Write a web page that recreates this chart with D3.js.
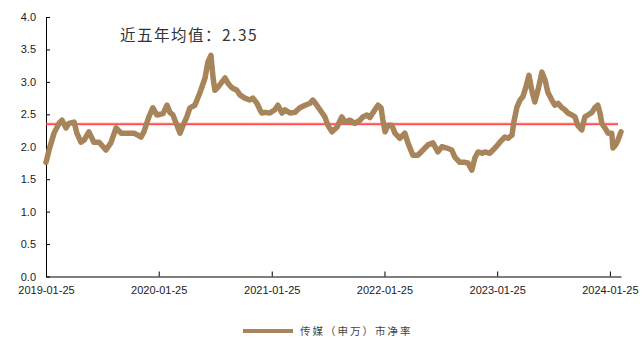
<!DOCTYPE html>
<html>
<head>
<meta charset="utf-8">
<script src="https://cdn.jsdelivr.net/npm/d3@7"></script>
<style>
  html, body { margin: 0; padding: 0; background: #fff; }
  svg { display: block; }
</style>
</head>
<body>
<svg id="chart" width="643" height="338"></svg>
<script>
// 传媒（申万）市净率, weekly-sampled readings
const dates = [
  "2019-01-25","2019-02-04","2019-02-20","2019-03-08","2019-03-18","2019-03-31","2019-04-09","2019-04-26",
  "2019-05-05","2019-05-18","2019-05-28","2019-06-13","2019-06-29","2019-07-16","2019-08-07","2019-08-23",
  "2019-09-09","2019-09-25","2019-10-14","2019-11-06","2019-11-29","2019-12-08","2019-12-24","2020-01-06",
  "2020-01-19","2020-02-08","2020-02-21","2020-03-01","2020-03-11","2020-03-24","2020-04-03","2020-04-13",
  "2020-04-25","2020-05-05","2020-05-21","2020-06-07","2020-06-23","2020-07-02","2020-07-12","2020-07-19",
  "2020-07-25","2020-08-04","2020-08-17","2020-08-27","2020-09-05","2020-09-18","2020-10-04","2020-10-14",
  "2020-10-30","2020-11-15","2020-11-25","2020-12-08","2020-12-18","2020-12-24","2021-01-03","2021-01-19",
  "2021-02-04","2021-02-14","2021-02-27","2021-03-09","2021-03-25","2021-04-10","2021-04-26","2021-05-13",
  "2021-05-29","2021-06-07","2021-06-20","2021-06-30","2021-07-16","2021-07-26","2021-08-08","2021-08-24",
  "2021-09-09","2021-09-19","2021-10-05","2021-10-21","2021-11-07","2021-11-16","2021-11-29","2021-12-09",
  "2021-12-25","2022-01-04","2022-01-14","2022-01-20","2022-01-27","2022-02-05","2022-02-18","2022-02-28",
  "2022-03-16","2022-04-01","2022-04-11","2022-04-27","2022-05-13","2022-05-30","2022-06-15","2022-07-01",
  "2022-07-17","2022-07-30","2022-08-15","2022-08-31","2022-09-10","2022-09-26","2022-10-13","2022-10-22",
  "2022-11-04","2022-11-14","2022-11-24","2022-12-07","2022-12-16","2023-01-01","2023-01-18","2023-02-03",
  "2023-02-19","2023-03-01","2023-03-14","2023-03-20","2023-03-30","2023-04-09","2023-04-18","2023-04-28",
  "2023-05-08","2023-05-17","2023-05-27","2023-06-06","2023-06-19","2023-06-29","2023-07-08","2023-07-21",
  "2023-07-31","2023-08-10","2023-08-23","2023-09-01","2023-09-11","2023-09-24","2023-10-04","2023-10-13",
  "2023-10-26","2023-11-05","2023-11-15","2023-11-28","2023-12-07","2023-12-17","2023-12-24","2023-12-30",
  "2024-01-09","2024-01-19","2024-01-31","2024-02-04","2024-02-13","2024-02-20","2024-03-01"
];
const pbValues = [
  1.76,1.95,2.21,2.36,2.41,2.29,2.36,2.38,
  2.21,2.07,2.10,2.23,2.07,2.07,1.95,2.06,
  2.29,2.21,2.21,2.21,2.15,2.23,2.46,2.60,
  2.49,2.51,2.64,2.53,2.49,2.33,2.21,2.33,
  2.46,2.60,2.64,2.84,3.06,3.30,3.41,3.06,
  2.87,2.92,3.00,3.06,2.98,2.91,2.87,2.80,
  2.75,2.72,2.75,2.67,2.57,2.52,2.53,2.52,
  2.57,2.64,2.52,2.57,2.52,2.53,2.60,2.64,
  2.67,2.72,2.64,2.57,2.46,2.33,2.23,2.30,
  2.46,2.38,2.41,2.36,2.41,2.46,2.49,2.45,
  2.57,2.64,2.60,2.41,2.23,2.33,2.33,2.21,
  2.13,2.21,2.06,1.87,1.87,1.95,2.03,2.06,
  1.92,2.00,1.98,1.95,1.84,1.76,1.76,1.75,
  1.64,1.83,1.92,1.90,1.92,1.90,1.98,2.07,
  2.15,2.13,2.18,2.38,2.61,2.72,2.77,2.92,
  3.10,2.87,2.69,2.87,3.15,3.03,2.84,2.72,
  2.64,2.67,2.60,2.57,2.52,2.49,2.46,2.33,
  2.26,2.46,2.49,2.53,2.60,2.64,2.52,2.36,
  2.29,2.21,2.21,1.98,2.03,2.10,2.23
];
const meanValue = 2.35;
const meanLabel = "近五年均值：2.35";
const seriesName = "传媒（申万）市净率";
const xTickDates = ["2019-01-25","2020-01-25","2021-01-25","2022-01-25","2023-01-25","2024-01-25"];
const yTicks = [0, 0.5, 1.0, 1.5, 2.0, 2.5, 3.0, 3.5, 4.0];

const parse = d3.timeParse("%Y-%m-%d");
const fmt = d3.timeFormat("%Y-%m-%d");
const data = dates.map((d, i) => ({ date: parse(d), value: pbValues[i] }));

const svg = d3.select("#chart");
const W = 643, H = 338;
const margin = { top: 17, right: 22, bottom: 61.5, left: 46 };
const innerW = W - margin.left - margin.right;
const innerH = H - margin.top - margin.bottom;

const x = d3.scaleTime()
  .domain(d3.extent(data, d => d.date))
  .range([0, innerW]);
const y = d3.scaleLinear().domain([0, 4]).range([innerH, 0]);

const g = svg.append("g").attr("transform", `translate(${margin.left},${margin.top})`);

const axisFont = "Liberation Sans, Arial, sans-serif";

// y axis with inward ticks
const yAxis = g.append("g")
  .call(d3.axisLeft(y).tickValues(yTicks).tickSizeInner(-4).tickSizeOuter(0)
    .tickFormat(d3.format(".1f")).tickPadding(10));
yAxis.select(".domain").attr("stroke", "#000").attr("stroke-width", 1);
yAxis.selectAll(".tick line").attr("stroke", "#000");
yAxis.selectAll("text").attr("font-family", axisFont).attr("font-size", 11).attr("fill", "#222");

// x axis with inward ticks
const xAxis = g.append("g")
  .attr("transform", `translate(0,${innerH})`)
  .call(d3.axisBottom(x).tickValues(xTickDates.map(parse)).tickSizeInner(-5).tickSizeOuter(0)
    .tickFormat(fmt).tickPadding(10));
xAxis.select(".domain").attr("stroke", "#000").attr("stroke-width", 1);
xAxis.selectAll(".tick line").attr("stroke", "#000");
xAxis.selectAll("text").attr("font-family", axisFont).attr("font-size", 11).attr("fill", "#222");

// five-year mean reference line
g.append("line")
  .attr("x1", x(data[0].date)).attr("x2", x(data[data.length - 2].date))
  .attr("y1", y(meanValue)).attr("y2", y(meanValue))
  .attr("stroke", "#ff8080").attr("stroke-width", 3).attr("opacity", 0.5);
g.append("line")
  .attr("x1", x(data[0].date)).attr("x2", x(data[data.length - 2].date))
  .attr("y1", y(meanValue)).attr("y2", y(meanValue))
  .attr("stroke", "#ff2a2a").attr("stroke-width", 1.2);

// P/B series
const line = d3.line().x(d => x(d.date)).y(d => y(d.value)).curve(d3.curveLinear);
g.append("path")
  .datum(data)
  .attr("fill", "none")
  .attr("stroke", "#a8845a")
  .attr("stroke-width", 5.5)
  .attr("stroke-linejoin", "round")
  .attr("stroke-linecap", "round")
  .attr("d", line);

// mean annotation
svg.append("text")
  .attr("x", 120).attr("y", 41)
  .attr("font-family", "Noto Sans CJK SC, sans-serif")
  .attr("font-size", 15.5)
  .attr("letter-spacing", 1.5)
  .attr("fill", "#333")
  .text(meanLabel);

// legend
const legend = svg.append("g").attr("transform", "translate(243,331)");
legend.append("line")
  .attr("x1", 0).attr("x2", 50).attr("y1", 0).attr("y2", 0)
  .attr("stroke", "#a8845a").attr("stroke-width", 4);
legend.append("text")
  .attr("x", 57).attr("y", 4)
  .attr("font-family", "Noto Sans CJK SC, sans-serif")
  .attr("font-size", 10.5)
  .attr("letter-spacing", 2)
  .attr("fill", "#444")
  .text(seriesName);
</script>
</body>
</html>
